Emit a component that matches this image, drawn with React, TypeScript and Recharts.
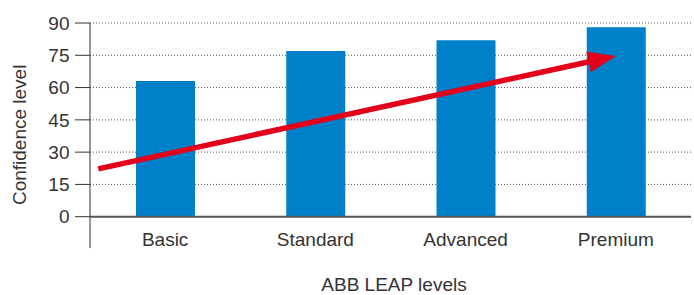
import { ComposedChart, Bar, XAxis, YAxis, CartesianGrid, ReferenceLine } from "recharts";

const levels = ["Basic", "Standard", "Advanced", "Premium"];
const confidence = [63, 77, 82, 88];
const yTicks = [0, 15, 30, 45, 60, 75, 90];

// red trend arrow, in (category position, confidence) units: 0.5 is the middle of "Basic"
const trendArrow = [
    { x: 0.055, y: 22.2 },
    { x: 3.5, y: 74.7 }
];
// the y axis line runs on a little below zero
const axisFoot = [
    { x: 0, y: 0 },
    { x: 0, y: -14.6 }
];

const data = levels.map((name, i) => ({ name, pos: i + 0.5, value: confidence[i] }));

const RED = "#e2001a";

function Arrow(props: any) {
    const { x1, y1, x2, y2 } = props;
    const dx = x2 - x1;
    const dy = y2 - y1;
    const len = Math.hypot(dx, dy);
    const ux = dx / len;
    const uy = dy / len;
    const headLen = 28;
    const headHalf = 10.5;
    const bx = x2 - ux * headLen;
    const by = y2 - uy * headLen;
    const px = -uy;
    const py = ux;
    return (
        <g>
            <line x1={x1} y1={y1} x2={bx + ux * 3} y2={by + uy * 3} stroke={RED} strokeWidth={5.5} />
            <polygon
                points={`${x2},${y2} ${bx + px * headHalf},${by + py * headHalf} ${bx - px * headHalf},${by - py * headHalf}`}
                fill={RED}
            />
        </g>
    );
}

const tickStyle = { fontSize: 19, fill: "#333" };

function App() {
    return (
        <div style={{ position: "absolute", left: 0, top: 0, fontFamily: "'Liberation Sans', Arial, sans-serif" }}>
            <ComposedChart width={694} height={295} data={data}
                margin={{ top: 23, right: 3, left: 0, bottom: 0 }}>
                <CartesianGrid vertical={false} stroke="#555" strokeDasharray="1 2" />
                <XAxis dataKey="name" type="category" height={78.3}
                    axisLine={{ stroke: "#555", strokeWidth: 2 }} tickLine={false}
                    tickSize={0} tickMargin={15.5} tick={tickStyle}
                    label={{ value: "ABB LEAP levels", position: "insideBottom", offset: 4, dx: 3.5, style: { fontSize: 19, fill: "#333" } }} />
                <XAxis xAxisId="arrow" dataKey="pos" type="number" domain={[0, 4]} allowDataOverflow hide />
                <YAxis domain={[0, 90]} ticks={yTicks} width={90} interval={0}
                    axisLine={{ stroke: "#333" }} tickLine={{ stroke: "#333" }}
                    tickSize={15} tickMargin={5.5} tick={tickStyle}
                    label={{ value: "Confidence level", angle: -90, position: "insideLeft", offset: 19, dy: 15, style: { fontSize: 19, fill: "#333", textAnchor: "middle" } }} />
                <Bar dataKey="value" fill="#0080c9" barSize={59} isAnimationActive={false} />
                <ReferenceLine xAxisId="arrow" segment={axisFoot} stroke="#333" ifOverflow="visible" />
                <ReferenceLine xAxisId="arrow" segment={trendArrow} ifOverflow="visible" shape={Arrow} />
            </ComposedChart>
        </div>
    );
}

export default App;
